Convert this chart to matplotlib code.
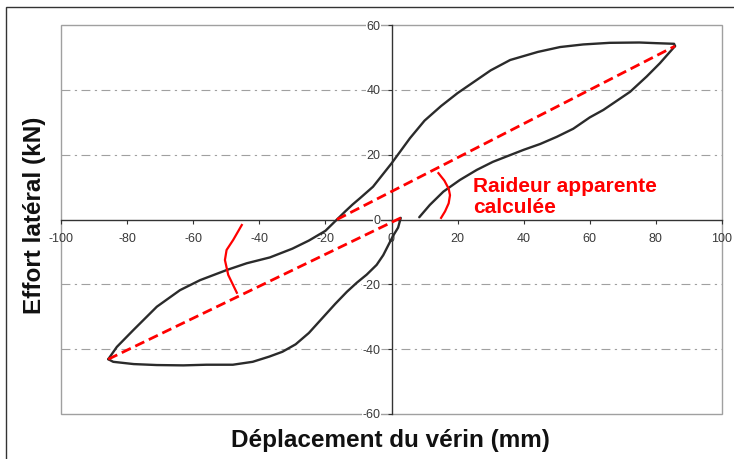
import matplotlib
matplotlib.use("Agg")
import matplotlib.pyplot as plt
from matplotlib.patches import Rectangle

plt.rcParams['font.family'] = ['Liberation Sans', 'DejaVu Sans']

# Hysteresis loop: unloading / reverse loading from the positive peak (top branch)
top_x = [85.8, 85.5, 80, 75, 66, 58, 51, 44.3, 35.9, 30, 25, 20, 15, 10, 5.6, 0,
         -5.6, -9.5, -11.8, -14, -16.5, -20, -25, -30, -36.8, -43.8, -49.9,
         -57.9, -64, -71, -78.1, -83.1, -85.7]
top_y = [53.5, 54.2, 54.4, 54.6, 54.5, 54.0, 53.2, 51.7, 49.2, 46.0, 42.5, 39.0,
         35.0, 30.5, 25.1, 17.3, 10.1, 6.6, 4.6, 2.5, 0.0, -3.5, -6.5, -9.0,
         -11.7, -13.5, -15.6, -18.7, -21.8, -26.9, -34.1, -39.3, -43.1]

# Reloading from the negative peak back towards the origin (bottom branch)
bot_x = [-85.7, -84.2, -78, -71, -63, -56, -48, -42, -37, -33, -29, -25, -21,
         -17, -13.5, -10.5, -7.5, -4.5, -2.5, -1.0, 0.5, 2.0, 2.8]
bot_y = [-43.1, -43.9, -44.6, -44.9, -45.0, -44.8, -44.8, -43.9, -42.3, -40.8,
         -38.5, -35.0, -30.5, -26.0, -22.3, -19.5, -17.0, -14.0, -11.0, -8.0,
         -5.0, -2.5, 0.5]

# Second loading towards the positive peak (lower right branch)
load_x = [8.4, 11.6, 15.7, 20.7, 25.8, 30.7, 40, 45, 50, 55, 60, 64.1, 72.2,
          77.2, 81.2, 85.8]
load_y = [0.7, 4.5, 8.6, 12.2, 15.3, 17.8, 21.5, 23.3, 25.5, 28.0, 31.5, 33.8,
          39.4, 44.1, 48.2, 53.5]

# Secant (apparent stiffness) lines between peak points
sec1_x = [-85.7, 2.8]
sec1_y = [-43.1, 0.5]
sec2_x = [-16.5, 85.8]
sec2_y = [0.0, 53.5]

# Arc markers showing the slopes
arc1_x = [14.2, 16.0, 17.3, 17.7, 17.3, 16.2, 15.0]
arc1_y = [14.3, 12.0, 9.5, 7.5, 5.0, 2.5, 0.5]
arc2_x = [-45.3, -47.9, -49.9, -50.4, -49.4, -46.8]
arc2_y = [-1.7, -6.3, -9.4, -12.5, -17.1, -22.6]

x_ticks = list(range(-100, 101, 20))
y_ticks = list(range(-60, 61, 20))
grid_levels = [-40, -20, 20, 40]

W, H = 734, 459
fig = plt.figure(figsize=(W / 100, H / 100), dpi=100)
ax = fig.add_axes([61 / W, 1 - 414 / H, (722 - 61) / W, (414 - 25) / H])

ax.set_xlim(-100, 100)
ax.set_ylim(-60, 60)

# plot-area frame
ax.add_patch(Rectangle((0, 0), 1, 1, transform=ax.transAxes, fill=False,
                       ec='#a0a0a0', lw=1.0, zorder=0.5, clip_on=False))
for lv in grid_levels:
    ax.axhline(lv, color='#a0a0a0', lw=0.8, ls=(0, (8, 4, 2, 4)), zorder=0.6)

for s in ['top', 'right']:
    ax.spines[s].set_visible(False)
for s in ['left', 'bottom']:
    ax.spines[s].set_position('zero')
    ax.spines[s].set_color('#333333')
    ax.spines[s].set_linewidth(1.0)
    ax.spines[s].set_zorder(1)

ax.set_xticks(x_ticks)
ax.set_yticks(y_ticks)
ax.set_xticklabels([str(v) for v in x_ticks])
ax.set_yticklabels([str(v) for v in y_ticks])
ax.tick_params(direction='out', length=3, width=0.8, color='#333333',
               labelsize=9, labelcolor='#3a3a3a')
ax.tick_params(axis='y', pad=5)
ax.tick_params(axis='x', pad=7)
for lab in ax.get_yticklabels():
    lab.set_bbox(dict(facecolor='white', edgecolor='none', pad=0.5))

# curves
blk = '#2b2b2b'
for cx, cy in [(top_x, top_y), (bot_x, bot_y), (load_x, load_y)]:
    ax.plot(cx, cy, color=blk, lw=1.7, zorder=3, solid_joinstyle='round',
            solid_capstyle='round')

for sx, sy in [(sec1_x, sec1_y), (sec2_x, sec2_y)]:
    ax.plot(sx, sy, color='#ff0000', lw=2.0, dashes=(3.6, 1.8), zorder=4)

ax.plot(arc1_x, arc1_y, color='#ff0000', lw=1.6, zorder=4)
ax.plot(arc2_x, arc2_y, color='#ff0000', lw=1.6, zorder=4)

ax.text(24.6, 8.6, 'Raideur apparente', color='#ff0000', fontsize=15,
        fontweight='bold', ha='left', va='baseline', zorder=5)
ax.text(24.6, 1.9, 'calculée', color='#ff0000', fontsize=15,
        fontweight='bold', ha='left', va='baseline', zorder=5)

# axis titles
fig.text(390 / W, 1 - 441 / H, 'Déplacement du vérin (mm)', fontsize=17.5,
         fontweight='bold', ha='center', va='center', color='#111111')
fig.text(35 / W, 1 - 215 / H, 'Effort latéral (kN)', fontsize=17.5,
         fontweight='bold', ha='center', va='center', rotation=90,
         color='#111111')

# outer chart border
fig.patches.append(Rectangle((6 / W, -0.2), 2.0, 1.2 - 7 / H,
                             transform=fig.transFigure, fill=False,
                             ec='#333333', lw=1.0))

fig.savefig('out.png', dpi=100)
